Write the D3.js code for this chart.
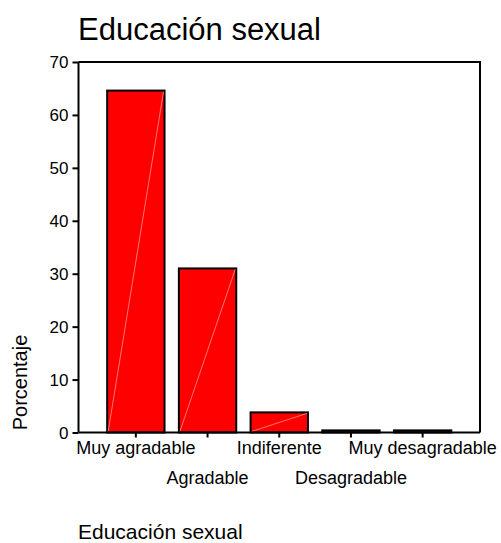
<!DOCTYPE html>
<html>
<head>
<meta charset="utf-8">
<script src="https://cdn.jsdelivr.net/npm/d3@7"></script>
<style>
  html, body { margin: 0; padding: 0; background: #fff; }
  svg { display: block; }
  text { font-family: Arial, "Liberation Sans", Helvetica, sans-serif; fill: #000; }
</style>
</head>
<body>
<svg id="chart" width="501" height="543"></svg>
<script>
const categories = ["Muy agradable", "Agradable", "Indiferente", "Desagradable", "Muy desagradable"];
const values = [64.6, 31.0, 3.8, 0.4, 0.4];
const yTicks = [0, 10, 20, 30, 40, 50, 60, 70];
const titleText = "Educación sexual";
const yLabel = "Porcentaje";
const xLabel = "Educación sexual";

(function () {
const svg = d3.select("#chart");
const pLeft = 78.5, pRight = 480, pTop = 62, pBottom = 432.5;

const x = d3.scaleBand().domain(categories).range([pLeft, pRight])
  .paddingInner(0.2).paddingOuter(0.4);
const y = d3.scaleLinear().domain([0, 70]).range([pBottom, pTop]);

// title
svg.append("text").attr("x", 78).attr("y", 40)
  .style("font-size", "31px").text(titleText);

// frame (top & right)
svg.append("path")
  .attr("d", `M${pLeft},${pTop}H${pRight}V${pBottom}`)
  .attr("fill", "none").attr("stroke", "#000").attr("stroke-width", 2);

// bars
const g = svg.append("g");
categories.forEach((c, i) => {
  const x0 = x(c), w = x.bandwidth(), y0 = y(values[i]);
  g.append("rect").attr("x", x0).attr("y", y0)
    .attr("width", w).attr("height", y(0) - y0)
    .attr("fill", "#ff0000").attr("stroke", "#000").attr("stroke-width", 2);
  if (y(0) - y0 > 4) {
    g.append("line").attr("x1", x0 + 1).attr("y1", y(0) - 1)
      .attr("x2", x0 + w - 1).attr("y2", y0 + 1)
      .attr("stroke", "#ffa8a8").attr("stroke-width", 0.7);
  }
});

// y axis
const yAxis = d3.axisLeft(y).tickValues(yTicks).tickSize(6).tickPadding(4);
const ya = svg.append("g").attr("transform", `translate(${pLeft},0)`).call(yAxis);
ya.select(".domain").attr("stroke-width", 2).attr("d", `M0,${pTop}V${pBottom}`);
ya.selectAll(".tick line").attr("stroke-width", 2);
ya.selectAll(".tick text").style("font-size", "17px")
  .style("font-family", "Arial, 'Liberation Sans', sans-serif").attr("fill", "#000")
  .attr("dy", "0.35em");

// x axis
const xAxis = d3.axisBottom(x).tickSize(5).tickSizeOuter(0).tickPadding(4);
const xa = svg.append("g").attr("transform", `translate(0,${pBottom})`).call(xAxis);
xa.select(".domain").attr("stroke-width", 2).attr("d", `M${pLeft},0H${pRight}`);
xa.selectAll(".tick line").attr("stroke-width", 2);
xa.selectAll(".tick text").style("font-size", "18px")
  .style("font-family", "Arial, 'Liberation Sans', sans-serif").attr("fill", "#000")
  .attr("dy", null)
  .attr("y", (d, i) => i % 2 === 0 ? 21 : 51);

// y label
svg.append("text")
  .attr("transform", "translate(27,382.5) rotate(-90)")
  .attr("text-anchor", "middle").style("font-size", "20px").text(yLabel);

// bottom label
svg.append("text").attr("x", 78).attr("y", 539)
  .style("font-size", "21px").text(xLabel);
})();
</script>
</body>
</html>
